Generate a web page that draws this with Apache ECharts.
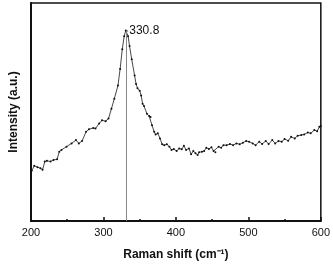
<!DOCTYPE html>
<html>
<head>
<meta charset="utf-8">
<script src="https://cdn.jsdelivr.net/npm/echarts@6/dist/echarts.min.js"></script>
<style>
  html, body { margin: 0; padding: 0; background: #fff; }
  #chart { width: 333px; height: 266px; }
</style>
</head>
<body>
<div id="chart"></div>
<script>
// Raman shift (cm-1) and intensity (a.u., arbitrary scale 0-100)
const shift = [
  201, 204.5, 209, 213, 216, 219, 222, 227, 231, 236, 239, 242, 249, 256, 262, 266, 270.5, 276,
  280, 286, 289, 294, 298, 303, 307, 311, 315, 320, 323, 326, 328.6, 330.8, 332, 334, 336, 339,
  343, 345, 347, 350, 352, 354, 356, 360, 363, 365, 367, 370, 372, 375, 378, 381, 384, 387.5,
  391, 394, 397, 401, 404.5, 408, 411, 414, 418, 421, 424, 427, 430, 432, 436, 439, 442, 445.5,
  449, 452, 454.5, 459, 462.5, 465.6, 470, 474.6, 479, 483.5, 488, 492.4, 497, 501, 506, 510,
  515, 519, 524, 528, 533, 537, 541.5, 546, 550, 555, 559, 564, 568, 573, 577, 582, 586, 591,
  595, 598, 600
]
const intensity = [
  23.0, 25.3, 24.7, 24.2, 23.5, 27.3, 27.6, 27.3, 28.0, 28.3, 31.8, 32.6, 34.1, 35.6, 37.1, 35.6,
  36.7, 40.9, 42.1, 42.7, 42.4, 44.7, 46.2, 45.8, 47.0, 51.5, 56.1, 62.1, 69.7, 78.8, 84.8, 87.4,
  87.1, 84.8, 80.3, 74.2, 66.7, 62.9, 60.9, 59.8, 57.6, 53.8, 52.7, 49.2, 48.2, 47.7, 43.9, 40.9,
  39.7, 40.2, 37.9, 35.2, 34.8, 35.2, 34.1, 32.6, 33.0, 32.1, 33.3, 32.9, 34.5, 32.6, 33.3, 30.6,
  32.1, 31.1, 30.3, 31.5, 31.8, 32.1, 33.6, 33.0, 33.8, 32.1, 31.5, 34.1, 33.6, 34.8, 34.8, 35.3,
  34.8, 35.6, 35.2, 35.9, 36.7, 36.4, 35.6, 34.8, 36.4, 35.3, 36.7, 35.3, 37.1, 35.6, 36.7, 36.4,
  37.6, 36.8, 38.6, 37.9, 39.1, 39.4, 39.7, 40.6, 40.2, 41.7, 41.2, 43.2, 43.6
]
const xTicks = [200, 300, 400, 500, 600]
const peakShift = 330.8
const peakValue = 87.4
const peakLabel = '330.8'

const chart = echarts.init(document.getElementById('chart'))

chart.setOption({
  animation: false,
  grid: {
    left: 23, right: 11, top: 3, bottom: 43,
    show: true, borderColor: '#111', borderWidth: 1.5
  },
  xAxis: {
    type: 'value',
    min: xTicks[0],
    max: xTicks[xTicks.length - 1],
    interval: 100,
    name: 'Raman shift (cm⁻¹)',
    nameLocation: 'middle',
    nameGap: 28,
    nameTextStyle: { fontFamily: 'Liberation Sans', fontWeight: 'bold', fontSize: 12, color: '#111' },
    axisLine: { lineStyle: { color: '#111', width: 2 } },
    axisTick: { inside: true, length: 4, lineStyle: { color: '#111', width: 1.5 } },
    minorTick: { show: true, splitNumber: 2, length: 2, lineStyle: { color: '#111', width: 1.5 } },
    axisLabel: { fontFamily: 'Liberation Sans', fontSize: 11, color: '#111', margin: 6 },
    splitLine: { show: false }
  },
  yAxis: {
    type: 'value',
    min: 0,
    max: 100,
    name: 'Intensity (a.u.)',
    nameLocation: 'middle',
    nameGap: 11,
    nameTextStyle: { fontFamily: 'Liberation Sans', fontWeight: 'bold', fontSize: 12, color: '#111' },
    axisLine: { show: true, lineStyle: { color: '#111', width: 2 } },
    axisTick: { show: false },
    axisLabel: { show: false },
    splitLine: { show: false }
  },
  series: [{
    type: 'line',
    data: shift.map((s, i) => [s, intensity[i]]),
    symbol: 'circle',
    symbolSize: 2,
    showSymbol: true,
    lineStyle: { color: '#333', width: 0.9 },
    itemStyle: { color: '#111' },
    markLine: {
      silent: true,
      symbol: 'none',
      lineStyle: { color: '#888', width: 1, type: 'solid' },
      label: { show: false },
      data: [[{ coord: [peakShift, 0] }, { coord: [peakShift, peakValue] }]]
    },
    markPoint: {
      symbol: 'circle',
      symbolSize: 1,
      itemStyle: { color: 'transparent' },
      label: {
        show: true,
        position: 'right',
        distance: 3,
        formatter: peakLabel,
        fontFamily: 'Liberation Sans',
        fontSize: 12,
        color: '#111'
      },
      data: [{ coord: [peakShift, peakValue] }]
    }
  }]
})
</script>
</body>
</html>
